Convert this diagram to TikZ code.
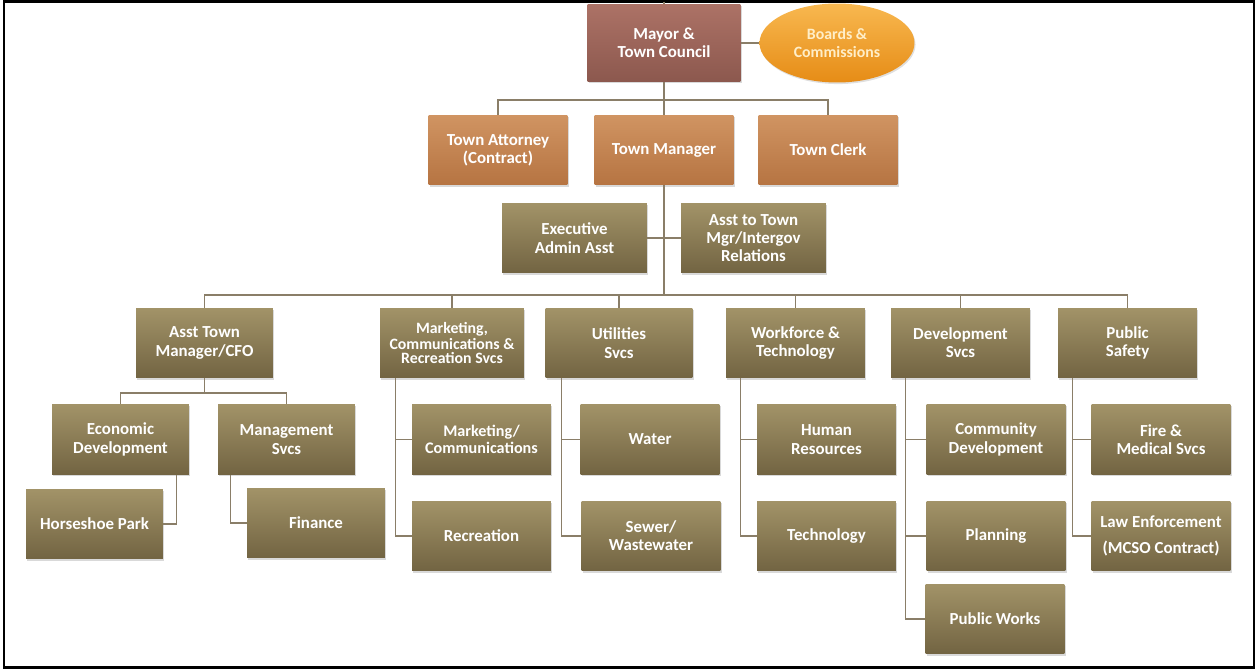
\documentclass[tikz,border=0pt]{standalone}
\usepackage{fontspec}
\setmainfont{Carlito}
\usetikzlibrary{shapes.geometric, shadows}

\definecolor{councilTop}{RGB}{172,114,102}
\definecolor{councilBot}{RGB}{140,88,78}
\definecolor{officerTop}{RGB}{208,148,98}
\definecolor{officerBot}{RGB}{182,116,66}
\definecolor{deptTop}{RGB}{162,147,104}
\definecolor{deptBot}{RGB}{114,100,66}
\definecolor{boardTop}{RGB}{248,184,80}
\definecolor{boardBot}{RGB}{230,140,22}
\definecolor{boardText}{RGB}{255,238,200}
\definecolor{linkgray}{RGB}{138,126,104}

\begin{document}
\begin{tikzpicture}[x=0.02cm, y=-0.02cm]
    \tikzstyle{unit} = [rectangle, minimum width=2.78cm, minimum height=1.4cm, inner sep=1pt, align=center, text=white, font=\bfseries\fontsize{9.6}{10.4}\selectfont, top color=deptTop, bottom color=deptBot, drop shadow={opacity=0.3, shadow xshift=0.6pt, shadow yshift=-0.9pt}]
    \tikzstyle{council} = [unit, minimum width=3.06cm, minimum height=1.54cm, top color=councilTop, bottom color=councilBot]
    \tikzstyle{officer} = [unit, top color=officerTop, bottom color=officerBot]
    \tikzstyle{board} = [ellipse, minimum width=3.1cm, minimum height=1.58cm, inner sep=0pt, align=center, text=boardText, font=\bfseries\fontsize{9}{10.2}\selectfont, top color=boardTop, bottom color=boardBot, drop shadow={opacity=0.25, shadow xshift=0.6pt, shadow yshift=-0.9pt}]
    \tikzstyle{small} = [font=\bfseries\fontsize{9}{7.8}\selectfont]
    \tikzstyle{link} = [draw=linkgray, line width=0.8pt]

    \useasboundingbox (0,0) rectangle (1255,669);
    \draw [line width=1.2pt] (4,1.5) rectangle (1254,667.5);

    % council and direct reports
    \node (mayor) [council] at (664,43) {Mayor \&\\Town Council};
    \node (boards) [board] at (837,43) {Boards \&\\Commissions};
    \node (attorney) [officer] at (498,150) {Town Attorney\\(Contract)};
    \node (manager) [officer] at (664,150) {Town Manager};
    \node (clerk) [officer] at (828,150) {Town Clerk};

    % manager's office
    \node (execasst) [unit, minimum width=2.9cm] at (574.5,238) {Executive\\Admin Asst};
    \node (intergov) [unit, minimum width=2.9cm] at (753.5,238) {Asst to Town\\Mgr/Intergov\\Relations};

    % departments
    \node (cfo) [unit, minimum width=2.74cm] at (204.5,343) {Asst Town\\Manager/CFO};
    \node (mcr) [unit, small, minimum width=2.88cm] at (452,343) {Marketing,\\Communications \&\\Recreation Svcs};
    \node (utilities) [unit, minimum width=2.94cm] at (619,343) {Utilities\\Svcs};
    \node (workforce) [unit] at (795.5,343) {Workforce \&\\Technology};
    \node (devsvcs) [unit] at (960.5,343) {Development\\Svcs};
    \node (safety) [unit] at (1127.5,343) {Public\\Safety};

    % divisions
    \node (econ) [unit, minimum width=2.74cm] at (120.5,439.5) {Economic\\Development};
    \node (mgmt) [unit, minimum width=2.74cm] at (286.5,439.5) {Management\\Svcs};
    \node (horseshoe) [unit, minimum width=2.74cm] at (94.5,524) {Horseshoe Park};
    \node (finance) [unit, minimum width=2.76cm] at (316,523) {Finance};
    \node (markcomm) [unit, font=\bfseries\fontsize{9.2}{9.4}\selectfont] at (481.5,439.5) {Marketing/\\Communications};
    \node (recreation) [unit] at (481.5,536) {Recreation};
    \node (water) [unit] at (650,439.5) {Water};
    \node (sewer) [unit] at (651,536) {Sewer/\\Wastewater};
    \node (hr) [unit] at (826.5,439.5) {Human\\Resources};
    \node (tech) [unit] at (826.5,536) {Technology};
    \node (community) [unit] at (996,439.5) {Community\\Development};
    \node (planning) [unit] at (996,536) {Planning};
    \node (publicworks) [unit] at (995,619) {Public Works};
    \node (fire) [unit] at (1161,439.5) {Fire \&\\Medical Svcs};
    \node (law) [unit] at (1161,536) {Law Enforcement\\[4pt](MCSO Contract)};

    \coordinate (top) at (664,2);
    \coordinate (bus1) at (664,100);
    \coordinate (bus2) at (664,295);
    \coordinate (bus3) at (204.5,393);

    \draw [link] (top) -- (mayor);
    \draw [link] (mayor) -- (boards);
    \draw [link] (mayor) -- (bus1);
    \draw [link] (bus1) -| (attorney);
    \draw [link] (bus1) -| (clerk);
    \draw [link] (bus1) -- (manager);
    \draw [link] (manager) -- (bus2);
    \draw [link] (execasst) -- (intergov);

    \draw [link] (bus2) -| (cfo);
    \draw [link] (bus2) -| (mcr);
    \draw [link] (bus2) -| (utilities);
    \draw [link] (bus2) -| (workforce);
    \draw [link] (bus2) -| (devsvcs);
    \draw [link] (bus2) -| (safety);

    \draw [link] (cfo) -- (bus3);
    \draw [link] (bus3) -| (econ);
    \draw [link] (bus3) -| (mgmt);
    \draw [link] ([xshift=-0.26cm]econ.south east) |- (horseshoe);
    \draw [link] ([xshift=0.26cm]mgmt.south west) |- (finance);

    \draw [link] ([xshift=0.32cm]mcr.south west) |- (markcomm);
    \draw [link] ([xshift=0.32cm]mcr.south west) |- (recreation);
    \draw [link] ([xshift=0.33cm]utilities.south west) |- (water);
    \draw [link] ([xshift=0.33cm]utilities.south west) |- (sewer);
    \draw [link] ([xshift=0.3cm]workforce.south west) |- (hr);
    \draw [link] ([xshift=0.3cm]workforce.south west) |- (tech);
    \draw [link] ([xshift=0.3cm]devsvcs.south west) |- (community);
    \draw [link] ([xshift=0.3cm]devsvcs.south west) |- (planning);
    \draw [link] ([xshift=0.3cm]devsvcs.south west) |- (publicworks);
    \draw [link] ([xshift=0.3cm]safety.south west) |- (fire);
    \draw [link] ([xshift=0.3cm]safety.south west) |- (law);
\end{tikzpicture}
\end{document}
